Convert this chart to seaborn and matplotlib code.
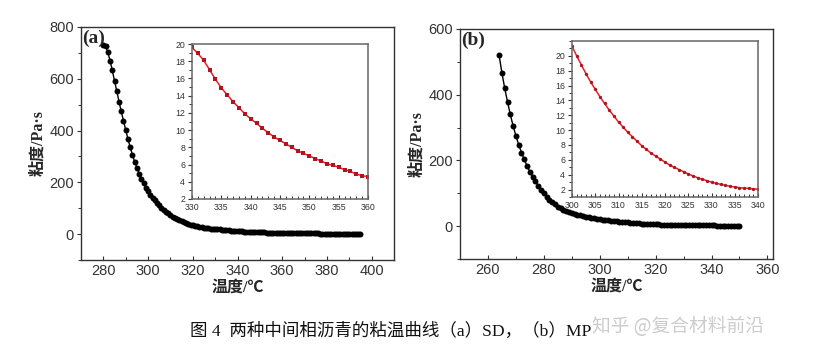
import matplotlib
matplotlib.use("Agg")
import matplotlib.pyplot as plt
from matplotlib.ticker import MultipleLocator
import numpy as np
import pandas as pd
import seaborn as sns

# ---------------- data ----------------
# (a) SD : main curve, temperature (°C) and viscosity (Pa·s)
a_temp = list(range(280, 396))
a_visc = [732, 725, 702, 670, 632, 592, 552, 512, 474, 438,
          402, 368, 336, 306, 280, 256, 234, 214, 196, 180,
          166, 153, 141, 130, 120, 111, 102, 94, 87, 80,
          74, 68, 63, 58, 53, 49, 45, 42, 39, 36,
          33.5, 31.5, 29.5, 27.8, 26.2, 24.8, 23.5, 22.3, 21.3, 20.4,
          19.6, 18.9, 18.1, 17.0, 15.9, 14.9, 14.1, 13.3, 12.6, 11.9,
          11.3, 10.8, 10.2, 9.7, 9.2, 8.8, 8.4, 8.0, 7.6, 7.3,
          7.0, 6.7, 6.4, 6.1, 5.9, 5.7, 5.4, 5.2, 4.9, 4.7,
          4.6, 4.4, 4.2, 4.0, 3.85, 3.7, 3.55, 3.4, 3.25, 3.1,
          3.0, 2.9, 2.8, 2.7, 2.6, 2.5, 2.4, 2.3, 2.25, 2.2,
          2.1, 2.05, 2.0, 1.95, 1.9, 1.85, 1.8, 1.75, 1.7, 1.65,
          1.6, 1.55, 1.5, 1.45, 1.4, 1.35]
# (a) inset, 330-360 °C
a_in_temp = list(range(330, 361))
a_in_visc = [19.6, 18.9, 18.1, 17.0, 15.9, 14.9, 14.1, 13.3, 12.6, 11.9,
             11.3, 10.8, 10.2, 9.7, 9.2, 8.8, 8.4, 8.0, 7.6, 7.3,
             7.0, 6.7, 6.4, 6.1, 5.9, 5.7, 5.4, 5.2, 4.9, 4.7, 4.6]

# (b) MP : main curve
b_temp = list(range(264, 351))
b_visc = [520, 466, 420, 378, 340, 305,
          275, 248, 224, 203, 183, 166, 150, 136, 123, 111,
          100, 90, 81, 73, 66, 59.5, 54, 49.5, 45.5, 42,
          39.3, 37, 34.8, 32.7, 30.7, 28.9, 27.2, 25.6, 24.1, 22.6,
          21.3, 20.0, 18.8, 17.6, 16.5, 15.5, 14.5, 13.6, 12.7, 11.9,
          11.1, 10.4, 9.7, 9.1, 8.5, 7.9, 7.4, 6.9, 6.5, 6.1,
          5.7, 5.3, 5.0, 4.7, 4.4, 4.1, 3.85, 3.6, 3.4, 3.2,
          3.0, 2.85, 2.7, 2.55, 2.45, 2.35, 2.25, 2.2, 2.15, 2.1,
          2.05, 2.0, 1.95, 1.9, 1.85, 1.8, 1.75, 1.7, 1.65, 1.6, 1.55]
# (b) inset, 300-340 °C
b_in_temp = list(range(300, 341))
b_in_visc = [21.3, 20.0, 18.8, 17.6, 16.5, 15.5, 14.5, 13.6, 12.7, 11.9,
             11.1, 10.4, 9.7, 9.1, 8.5, 7.9, 7.4, 6.9, 6.5, 6.1,
             5.7, 5.3, 5.0, 4.7, 4.4, 4.1, 3.85, 3.6, 3.4, 3.2,
             3.0, 2.85, 2.7, 2.55, 2.45, 2.35, 2.25, 2.2, 2.15, 2.1, 2.05]

x_label = "温度/℃"
y_label = "粘度/Pa·s"
caption = "图 4  两种中间相沥青的粘温曲线（a）SD，（b）MP"
watermark = "知乎 @复合材料前沿"

# ---------------- style ----------------
sns.set_theme(style="ticks")
plt.rcParams["font.family"] = ["Liberation Sans", "Noto Sans CJK SC", "DejaVu Sans"]
plt.rcParams["axes.edgecolor"] = "#333333"
plt.rcParams["axes.linewidth"] = 1.0

W, H = 830, 356
fig = plt.figure(figsize=(W / 100, H / 100), dpi=100)

cjk = ["Noto Sans CJK SC", "DejaVu Sans"]
serif_cjk = ["Liberation Serif", "Noto Sans CJK SC", "DejaVu Sans"]


def style_axes(ax, xmaj, xmin, ymaj, ymin, size):
    ax.xaxis.set_major_locator(MultipleLocator(xmaj))
    ax.xaxis.set_minor_locator(MultipleLocator(xmin))
    ax.yaxis.set_major_locator(MultipleLocator(ymaj))
    ax.yaxis.set_minor_locator(MultipleLocator(ymin))
    ax.tick_params(axis="x", which="major", direction="in", length=3, width=0.8,
                   labelsize=size, colors="#333333", pad=3)
    ax.tick_params(axis="x", which="minor", direction="in", length=2, width=0.7,
                   colors="#333333")
    ax.tick_params(axis="y", which="major", direction="out", length=3, width=0.8,
                   labelsize=size, colors="#333333", pad=2)
    ax.tick_params(axis="y", which="minor", direction="out", length=2, width=0.7,
                   colors="#333333")
    for s in ax.spines.values():
        s.set_visible(True)


def main_panel(rect, temp, visc, xlim, ylim, xmaj, ymaj, tag):
    ax = fig.add_axes(rect)
    df = pd.DataFrame({"T": temp, "V": visc})
    sns.lineplot(data=df, x="T", y="V", ax=ax, color="black", lw=1.0,
                 marker="o", markersize=4.3, markeredgewidth=0,
                 markerfacecolor="black")
    ax.set_xlim(*xlim)
    ax.set_ylim(*ylim)
    style_axes(ax, xmaj, xmaj / 2, ymaj, ymaj / 2, 10.5)
    ax.set_xlabel(x_label, family=serif_cjk, fontsize=11.5, fontweight="bold", labelpad=1)
    ax.set_ylabel(y_label, family=serif_cjk, fontsize=11.5, fontweight="bold", labelpad=2)
    ax.text(0.005, 0.99, tag, transform=ax.transAxes, ha="left", va="top",
            family="Liberation Serif", fontsize=14, fontweight="bold")
    return ax


def inset_panel(rect, temp, visc, xlim, ylim, marker, msize):
    ax = fig.add_axes(rect)
    df = pd.DataFrame({"T": temp, "V": visc})
    sns.lineplot(data=df, x="T", y="V", ax=ax, color="#e8202a", lw=1.1,
                 marker=marker, markersize=msize, markeredgewidth=0,
                 markerfacecolor="#b0141c")
    ax.set_xlim(*xlim)
    ax.set_ylim(*ylim)
    style_axes(ax, 5, 1, 2, 1, 6.3)
    ax.set_xlabel("")
    ax.set_ylabel("")
    for s in ax.spines.values():
        s.set_color("#666666")
        s.set_linewidth(1.1)
    return ax


ax_a = main_panel([81 / W, 1 - 260 / H, 313 / W, 233 / H],
                  a_temp, a_visc, (270, 410), (-100, 800), 20, 200, "(a)")
ax_b = main_panel([460 / W, 1 - 259 / H, 313 / W, 230 / H],
                  b_temp, b_visc, (250, 362), (-100, 600), 20, 200, "(b)")

in_a = inset_panel([192 / W, 1 - 199 / H, 176 / W, 155 / H],
                   a_in_temp, a_in_visc, (330, 360), (2, 20), "s", 3.2)
in_a.set_yticks([2, 4, 6, 8, 10, 12, 14, 16, 18, 20])

in_b = inset_panel([572 / W, 1 - 197 / H, 186 / W, 156 / H],
                   b_in_temp, b_in_visc, (300, 340), (1, 22), "o", 2.4)
in_b.set_yticks([2, 4, 6, 8, 10, 12, 14, 16, 18, 20])

fig.text(190 / W, 1 - 331 / H, caption, family=serif_cjk, fontsize=12.6,
         ha="left", va="center", color="#111111")
fig.text(592 / W, 1 - 326 / H, watermark, family=cjk, fontsize=13.5,
         ha="left", va="center", color="#cccccc")

fig.savefig("out.png", dpi=100)
